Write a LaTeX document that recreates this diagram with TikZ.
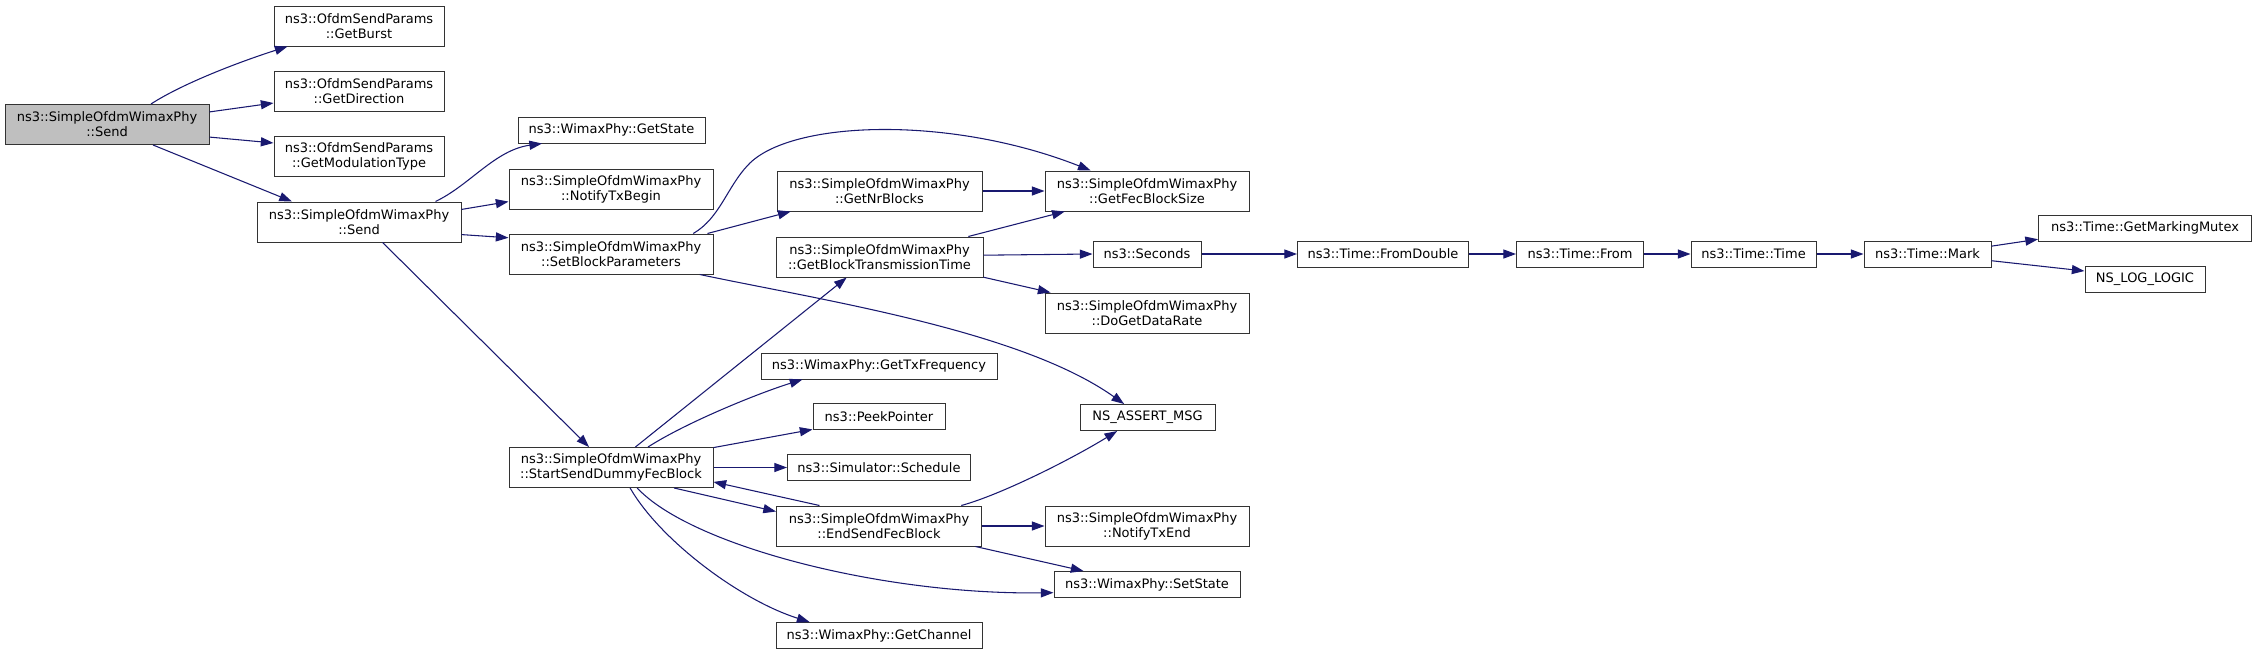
\documentclass[tikz,border=0pt]{standalone}
\usepackage{fontspec}
\setmainfont{DejaVu Sans}
\usetikzlibrary{arrows.meta}
\definecolor{edgeblue}{HTML}{191970}
\definecolor{rootgrey}{HTML}{BFBFBF}

\begin{document}
\begin{tikzpicture}[x=0.75pt, y=-0.75pt, >={Triangle[length=9.5pt, width=6.8pt]},
  fn/.style={draw=black!80, line width=0.75pt, fill=white, align=center, inner sep=0pt,
    minimum height=30pt, font=\fontsize{9.75}{11.25}\selectfont},
  fnone/.style={fn, minimum height=19.5pt},
  call/.style={->, edgeblue, line width=0.8pt}]
  \useasboundingbox (0,0) rectangle (2256,654);
  % root and first calls
  \node[fn, fill=rootgrey, minimum width=153pt] (rootsend) at (107,124.5) {ns3::SimpleOfdmWimaxPhy\\::Send};
  \node[fn, minimum width=127.5pt] (getburst) at (359,26) {ns3::OfdmSendParams\\::GetBurst};
  \node[fn, minimum width=127.5pt] (getdir) at (359,91) {ns3::OfdmSendParams\\::GetDirection};
  \node[fn, minimum width=127.5pt] (getmod) at (359,156.5) {ns3::OfdmSendParams\\::GetModulationType};
  \node[fn, minimum width=153pt] (send) at (359,222) {ns3::SimpleOfdmWimaxPhy\\::Send};
  % second column
  \node[fnone, minimum width=140.25pt] (getstate) at (611.5,130) {ns3::WimaxPhy::GetState};
  \node[fn, minimum width=153pt] (txbegin) at (611,189) {ns3::SimpleOfdmWimaxPhy\\::NotifyTxBegin};
  \node[fn, minimum width=153pt] (setblock) at (611,254) {ns3::SimpleOfdmWimaxPhy\\::SetBlockParameters};
  \node[fn, minimum width=153pt] (startsend) at (611,467.5) {ns3::SimpleOfdmWimaxPhy\\::StartSendDummyFecBlock};
  % third column
  \node[fn, minimum width=153.75pt] (nrblocks) at (879.5,191) {ns3::SimpleOfdmWimaxPhy\\::GetNrBlocks};
  \node[fn, minimum width=155.25pt] (blocktime) at (879.5,257) {ns3::SimpleOfdmWimaxPhy\\::GetBlockTransmissionTime};
  \node[fnone, minimum width=177pt] (txfreq) at (879,366) {ns3::WimaxPhy::GetTxFrequency};
  \node[fnone, minimum width=99pt] (peek) at (879,416.5) {ns3::PeekPointer};
  \node[fnone, minimum width=137.25pt] (schedule) at (879,467.5) {ns3::Simulator::Schedule};
  \node[fn, minimum width=153.75pt] (endsend) at (879,526) {ns3::SimpleOfdmWimaxPhy\\::EndSendFecBlock};
  \node[fnone, minimum width=154.5pt] (getchannel) at (879,635.5) {ns3::WimaxPhy::GetChannel};
  % fourth column
  \node[fn, minimum width=153pt] (fecsize) at (1147,191) {ns3::SimpleOfdmWimaxPhy\\::GetFecBlockSize};
  \node[fnone, minimum width=81pt] (seconds) at (1147,254) {ns3::Seconds};
  \node[fn, minimum width=153pt] (datarate) at (1147,313) {ns3::SimpleOfdmWimaxPhy\\::DoGetDataRate};
  \node[fnone, minimum width=101.25pt] (assertmsg) at (1147.5,417.5) {NS\_ASSERT\_MSG};
  \node[fn, minimum width=153pt] (txend) at (1147,526) {ns3::SimpleOfdmWimaxPhy\\::NotifyTxEnd};
  \node[fnone, minimum width=139.5pt] (setstate) at (1147,584.5) {ns3::WimaxPhy::SetState};
  % time chain
  \node[fnone, minimum width=128.25pt] (fromdouble) at (1383,254) {ns3::Time::FromDouble};
  \node[fnone, minimum width=95.25pt] (from) at (1580,254) {ns3::Time::From};
  \node[fnone, minimum width=93.75pt] (timetime) at (1753.5,254) {ns3::Time::Time};
  \node[fnone, minimum width=95.25pt] (mark) at (1927.5,254) {ns3::Time::Mark};
  \node[fnone, minimum width=159.75pt] (mutex) at (2145,228) {ns3::Time::GetMarkingMutex};
  \node[fnone, minimum width=90pt] (loglogic) at (2145,279.5) {NS\_LOG\_LOGIC};

  % calls of the root
  \draw[call] (rootsend.25) .. controls (185,82) and (245,60) .. (getburst.-164);
  \draw[call] (rootsend.7.5) -- (getdir.188);
  \draw[call] (rootsend.-7) -- (getmod.171.6);
  \draw[call] (rootsend.-24) -- (send.163.6);
  % calls of send
  \draw[call] (send.15.7) .. controls (470,185) and (495,150) .. (getstate.-169.7);
  \draw[call] (send.7.8) -- (txbegin.187.3);
  \draw[call] (send.-7.3) -- (setblock.171.6);
  \draw[call] (send.-41) -- (startsend.137);
  % calls of setblock
  \draw[call] (setblock.14) .. controls (720,218) and (727,187) .. (748,165)
    .. controls (790,120) and (950,115) .. (fecsize.160);
  \draw[call] (setblock.12.9) -- (nrblocks.-167);
  \draw[call] (setblock.-13) .. controls (820,300) and (1020,330) .. (assertmsg.150);
  \draw[call] (nrblocks) -- (fecsize);
  % calls of blocktime
  \draw[call] (blocktime.13.8) -- (fecsize.-166.3);
  \draw[call] (blocktime.1) -- (seconds.west);
  \draw[call] (blocktime.-11.7) -- (datarate.168);
  \draw[call] (seconds) -- (fromdouble);
  \draw[call] (fromdouble) -- (from);
  \draw[call] (from) -- (timetime);
  \draw[call] (timetime) -- (mark);
  \draw[call] (mark.7.2) -- (mutex.186);
  \draw[call] (mark.-6.3) -- (loglogic.172);
  % calls of startsend
  \draw[call] (startsend.40.5) -- (blocktime.-148.4);
  \draw[call] (startsend.29.7) .. controls (687,422) and (759,393) .. (txfreq.-170);
  \draw[call] (startsend.11.3) -- (peek.-169.6);
  \draw[call] (startsend) -- (schedule);
  \draw[call] (startsend.-18.9) -- (endsend.172.7);
  \draw[call] (endsend.161) -- (startsend.-8.1);
  \draw[call] (startsend.-38.3) .. controls (690,545) and (880,595) .. (setstate.-175.4);
  \draw[call] (startsend.-47.2) .. controls (660,540) and (740,600) .. (getchannel.169.7);
  % calls of endsend
  \draw[call] (endsend.14.2) .. controls (1000,495) and (1070,460) .. (assertmsg.-156.7);
  \draw[call] (endsend) -- (txend);
  \draw[call] (endsend.-12.1) -- (setstate.168);
\end{tikzpicture}
\end{document}
